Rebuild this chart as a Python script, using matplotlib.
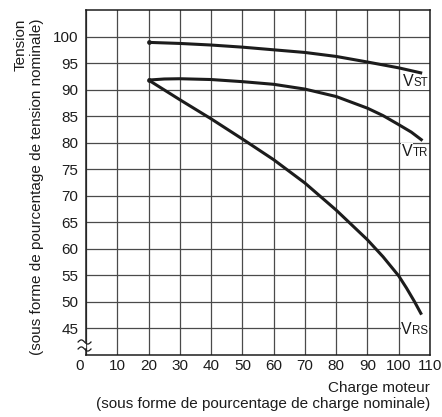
import numpy as np
import matplotlib
matplotlib.use('Agg')
import matplotlib.pyplot as plt
import matplotlib.transforms as mtransforms

plt.rcParams['font.family'] = ['Liberation Sans', 'DejaVu Sans']

# load (% of nominal) and voltage (% of nominal)
load_st = [20, 30, 40, 50, 60, 70, 80, 90, 100, 107.5]
v_st = [98.9, 98.7, 98.4, 98.0, 97.5, 97.0, 96.25, 95.2, 94.1, 93.1]

load_tr = [20, 25, 30, 40, 50, 60, 70, 80, 90, 95, 100, 104, 107.6]
v_tr = [91.8, 92.0, 92.05, 91.9, 91.5, 91.0, 90.1, 88.7, 86.5, 85.1, 83.4, 82.0, 80.4]

load_rs = [20, 30, 40, 50, 60, 70, 80, 90, 95, 100, 102.5, 105, 107.3]
v_rs = [91.8, 88.1, 84.5, 80.7, 76.8, 72.4, 67.3, 61.7, 58.5, 54.9, 52.6, 50.1, 47.6]

x_ticks = [0, 10, 20, 30, 40, 50, 60, 70, 80, 90, 100, 110]
y_ticks = [45, 50, 55, 60, 65, 70, 75, 80, 85, 90, 95, 100]

# label name, subscript, baseline value, subscript width in points
curve_labels = [('V', 'ST', 90.6, 10.6), ('V', 'TR', 77.5, 11.1), ('V', 'RS', 43.9, 11.6)]

INK = '#1c1c1c'

fig = plt.figure(figsize=(4.42, 4.17), dpi=100)
ax = fig.add_axes([86 / 442, 62 / 417, 344 / 442, 345 / 417])

ax.set_xlim(0, 110)
ax.set_ylim(40, 105)
ax.set_xticks(x_ticks)
ax.set_yticks(y_ticks)
ax.tick_params(length=0, labelsize=11, colors=INK)
ax.tick_params(axis='y', pad=5.5)
ax.tick_params(axis='x', pad=3.0)
ax.grid(True, color='#4a4a4a', lw=0.9)
ax.set_axisbelow(True)

# the "0" label sits a bit left of the axis in the original
lbl0 = ax.get_xticklabels()[0]
lbl0.set_transform(lbl0.get_transform() + mtransforms.ScaledTranslation(-6 / 100, 0, fig.dpi_scale_trans))

for side in ['top', 'right', 'bottom']:
    ax.spines[side].set_linewidth(1.1)
    ax.spines[side].set_color(INK)
ax.spines['left'].set_visible(False)

# left spine with a break near the bottom
ax.plot([0, 0], [1, 0.0377], transform=ax.transAxes, color=INK, lw=1.1, clip_on=False)
ax.plot([0, 0], [0.0174, 0], transform=ax.transAxes, color=INK, lw=1.1, clip_on=False)
t = np.linspace(0, 1, 30)
wx = -0.023 + t * 0.0375
for y0 in [0.0377, 0.0174]:
    ax.plot(wx, y0 + 0.006 * np.sin(2 * np.pi * t), transform=ax.transAxes,
            color=INK, lw=0.9, clip_on=False)

for lx, ly in [(load_st, v_st), (load_tr, v_tr), (load_rs, v_rs)]:
    ax.plot(lx, ly, color=INK, lw=2.2, solid_capstyle='butt', zorder=3)
ax.plot([load_st[0], load_tr[0]], [v_st[0], v_tr[0]], 'o', color=INK, ms=2.4, zorder=4)

for big, sub, yv, w in curve_labels:
    ax.text(109.4, yv, sub, fontsize=8.3, ha='right', va='baseline', color=INK,
            bbox=dict(fc='white', ec='none', pad=0.5), zorder=5)
    ax.annotate(big, (109.4, yv), xytext=(-w, 0), textcoords='offset points',
                fontsize=11.5, ha='right', va='baseline', color=INK,
                bbox=dict(fc='white', ec='none', pad=0.5), zorder=5)

fig.text(29 / 442, 1 - 187 / 417,
         'Tension\n(sous forme de pourcentage de tension nominale)',
         rotation=90, ha='center', va='center', multialignment='right',
         fontsize=11, color=INK, linespacing=1.2)
fig.text(430 / 442, 1 - 381 / 417,
         'Charge moteur\n(sous forme de pourcentage de charge nominale)',
         ha='right', va='top', multialignment='right',
         fontsize=11, color=INK, linespacing=1.2)

fig.savefig('out.png', dpi=100)
